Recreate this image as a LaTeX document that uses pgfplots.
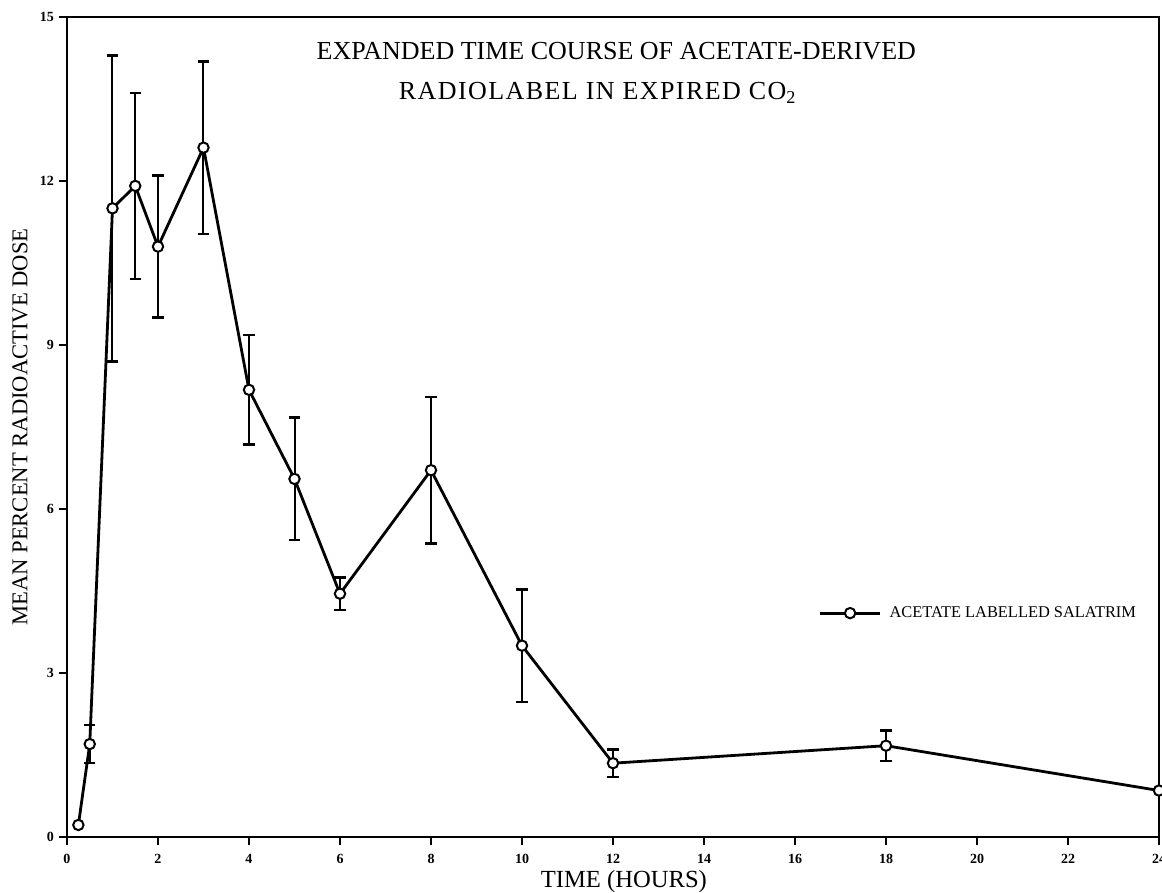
\documentclass[border=0pt]{standalone}
\usepackage{fontspec}
\setmainfont{Liberation Serif}
\usepackage{pgfplots}
\usepackage{pgfplotstable}
\pgfplotsset{compat=1.18}

% time (h), mean % of radioactive dose, error
\pgfplotstableread{
t     m      e
0.25  0.22   nan
0.5   1.70   0.35
1     11.50  2.80
1.5   11.91  1.70
2     10.80  1.30
3     12.61  1.58
4     8.18   1.00
5     6.55   1.12
6     4.45   0.30
8     6.71   1.34
10    3.50   1.03
12    1.35   0.25
18    1.67   0.28
24    0.85   nan
}\salatrim

\begin{document}
\begin{tikzpicture}
\begin{axis}[
  name=ax, at={(0pt,0pt)}, anchor=south west,
  scale only axis, width=546pt, height=410pt,
  xmin=0, xmax=24, ymin=0, ymax=15,
  xtick={0,2,...,24}, ytick={0,3,...,15},
  tick align=outside, xtick pos=bottom, ytick pos=left,
  major tick length=4pt,
  axis line style={line width=1.3pt},
  every tick/.style={line width=1.2pt, black},
  /pgf/number format/assume math mode=true,
  ticklabel style={font=\fontsize{7}{8}\selectfont\bfseries},
  xticklabel style={yshift=-1pt},
  yticklabel style={xshift=1pt},
  xlabel={TIME (HOURS)},
  ylabel={MEAN PERCENT RADIOACTIVE DOSE},
  xlabel style={at={(axis description cs:0.51,-0.0622)}, anchor=base,
    font=\fontsize{12.3}{13}\selectfont},
  ylabel style={at={(axis description cs:-0.043,0.5)}, anchor=center,
    font=\fontsize{11.3}{12}\selectfont},
  legend cell align=left,
  legend style={at={(0.688,0.273)}, anchor=west, draw=none, fill=none,
    inner sep=0pt, font=\fontsize{8.2}{9}\selectfont,
    /tikz/every odd column/.append style={column sep=2pt}},
  legend image code/.code={%
    \draw[mark repeat=2, mark phase=2, #1] plot coordinates {(0pt,0pt) (15pt,0pt) (30pt,0pt)};},
]
% error bars first, so the open circles sit on top of them
\addplot[forget plot, draw=none, mark=none,
  error bars/.cd, y dir=both, y explicit,
  error bar style={draw=black, line width=1pt},
  error mark options={draw=black, rotate=90, mark size=2.8pt, line width=1.3pt}]
  table[x=t, y=m, y error=e] {\salatrim};
\addplot[black, line width=1.4pt, mark=*, mark size=2.6pt,
  mark options={fill=white, draw=black, line width=1pt}]
  table[x=t, y=m] {\salatrim};
\addlegendentry{ACETATE LABELLED SALATRIM}

\node[anchor=base, font=\fontsize{13}{14}\selectfont]
  at (axis description cs:0.503,0.9476) {EXPANDED TIME COURSE OF ACETATE-DERIVED};
\node[anchor=base, font=\fontsize{13}{14}\selectfont\addfontfeature{LetterSpace=5.5}]
  at (axis description cs:0.486,0.899) {RADIOLABEL IN EXPIRED CO\textsubscript{2}};
\end{axis}
\pgfresetboundingbox
\path[use as bounding box] (-33.5pt,-28pt) rectangle (547.5pt,418.5pt);
\end{tikzpicture}
\end{document}
